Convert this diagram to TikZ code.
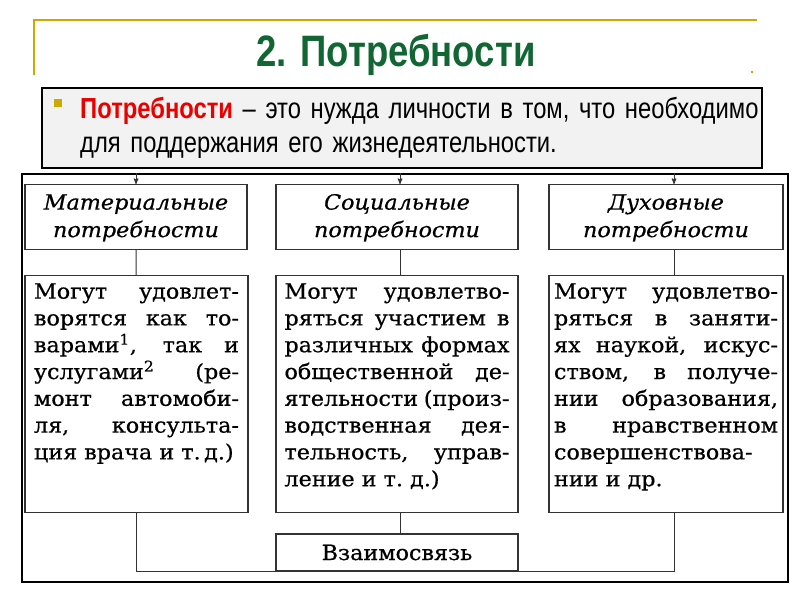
\documentclass[tikz,border=0pt]{standalone}
\usepackage{fontspec}
\setmainfont[FakeStretch=1.06,FakeBold=0.6]{DejaVu Serif}
\newfontfamily\narrowsans[FakeStretch=0.82]{Liberation Sans}
\newfontfamily\titlesans[FakeStretch=0.83]{Liberation Sans}
\usetikzlibrary{arrows}

\definecolor{slidegold}{RGB}{204,170,0}
\definecolor{titlegreen}{RGB}{18,102,52}
\definecolor{termred}{RGB}{235,0,0}
\definecolor{boxgray}{RGB}{242,242,242}

\begin{document}
\begin{tikzpicture}[x=1pt,y=-1pt,>=stealth',
    head node/.style={draw=black!80,line width=1.2pt,text width=200pt,align=center,anchor=north,
                      inner ysep=0pt,text height=25pt,text depth=40pt,
                      font=\itshape\fontsize{21}{27.5}\selectfont},
    body node/.style={draw=black!80,line width=1.2pt,text width=#1,align=justify,anchor=north,
                      inner ysep=0pt,text height=23pt,text depth=214pt,
                      font=\fontsize{21}{26.8}\selectfont},
    link/.style={draw=black!80,line width=1pt}]
  \useasboundingbox (0,0) rectangle (800,600);
  % slide heading
  \draw[slidegold,line width=1.5pt] (34,75) -- (34,20) -- (757,20);
  \fill[slidegold] (751,71) rectangle (753,73);
  \node[font=\titlesans\bfseries\fontsize{44}{48}\selectfont,text=titlegreen] (title) at (396,55) {2. Потребности};
  \node[draw,line width=2pt,fill=boxgray,minimum width=720pt,minimum height=80pt] (defbox) at (402,128) {};
  \node[fill=slidegold,minimum size=8pt,inner sep=0pt] (bullet) at (58,103) {};
  \node[anchor=base west,text width=690pt,align=left,inner sep=0pt,
        font=\narrowsans\fontsize{29}{34}\selectfont] (deftext) at (80,118)
     {{\color{termred}\bfseries Потребности} – это нужда личности в том, что необходимо\\
      для поддержания его жизнедеятельности.};

  % scheme
  \node[draw,line width=2.5pt,minimum width=766pt,minimum height=408pt] (frame) at (405,378) {};
  \node[head node,minimum width=222pt] (mat) at (136,184) {Материальные\\потребности};
  \node[head node,minimum width=242pt] (soc) at (397,184) {Социальные\\потребности};
  \node[head node,minimum width=234pt] (duh) at (666,184) {Духовные\\потребности};

  \node[body node=205pt,minimum width=223pt] (matb) at (136.5,275)
    {\parfillskip=0pt Могут удовлет-\linebreak ворятся как то-\linebreak варами\textsuperscript{1}, так и\linebreak
     услугами\textsuperscript{2} (ре-\linebreak монт автомоби-\linebreak ля, консульта-\linebreak
     ция врача и т.\,д.)};
  \node[body node=225pt,minimum width=242pt] (socb) at (397,275)
    {Могут удовлетво-\linebreak ряться участием в\linebreak различных формах\linebreak
     общественной де-\linebreak ятельности (произ-\linebreak водственная дея-\linebreak
     тельность, управ-\linebreak ление и~т.~д.)};
  \node[body node=224pt,minimum width=234pt] (duhb) at (666,275)
    {Могут удовлетво-\linebreak ряться в заняти-\linebreak ях наукой, искус-\linebreak
     ством, в получе-\linebreak нии образования,\linebreak в нравственном\linebreak
     совершенствова-\linebreak нии и~др.};

  \node[draw=black!80,line width=1.2pt,minimum width=242pt,minimum height=37pt,
        font=\fontsize{21}{24}\selectfont] (link) at (397,552.5) {Взаимосвязь};

  % connectors
  \draw[link,->] (frame.north -| mat.north) -- (mat.north);
  \draw[link,->] ([xshift=3pt]frame.north -| soc.north) -- ([xshift=3pt]soc.north);
  \draw[link,->] ([xshift=8pt]frame.north -| duh.north) -- ([xshift=8pt]duh.north);
  \draw[link] (mat) -- (matb);
  \draw[link] ([xshift=3pt]soc.south) -- ([xshift=3pt]socb.north);
  \draw[link] ([xshift=8pt]duh.south) -- ([xshift=8pt]duhb.north);
  \draw[link] (matb.south) |- (link.south west);
  \draw[link] ([xshift=3pt]socb.south) -- ([xshift=3pt]link.north);
  \draw[link] ([xshift=8pt]duhb.south) |- (link.south east);
\end{tikzpicture}
\end{document}
